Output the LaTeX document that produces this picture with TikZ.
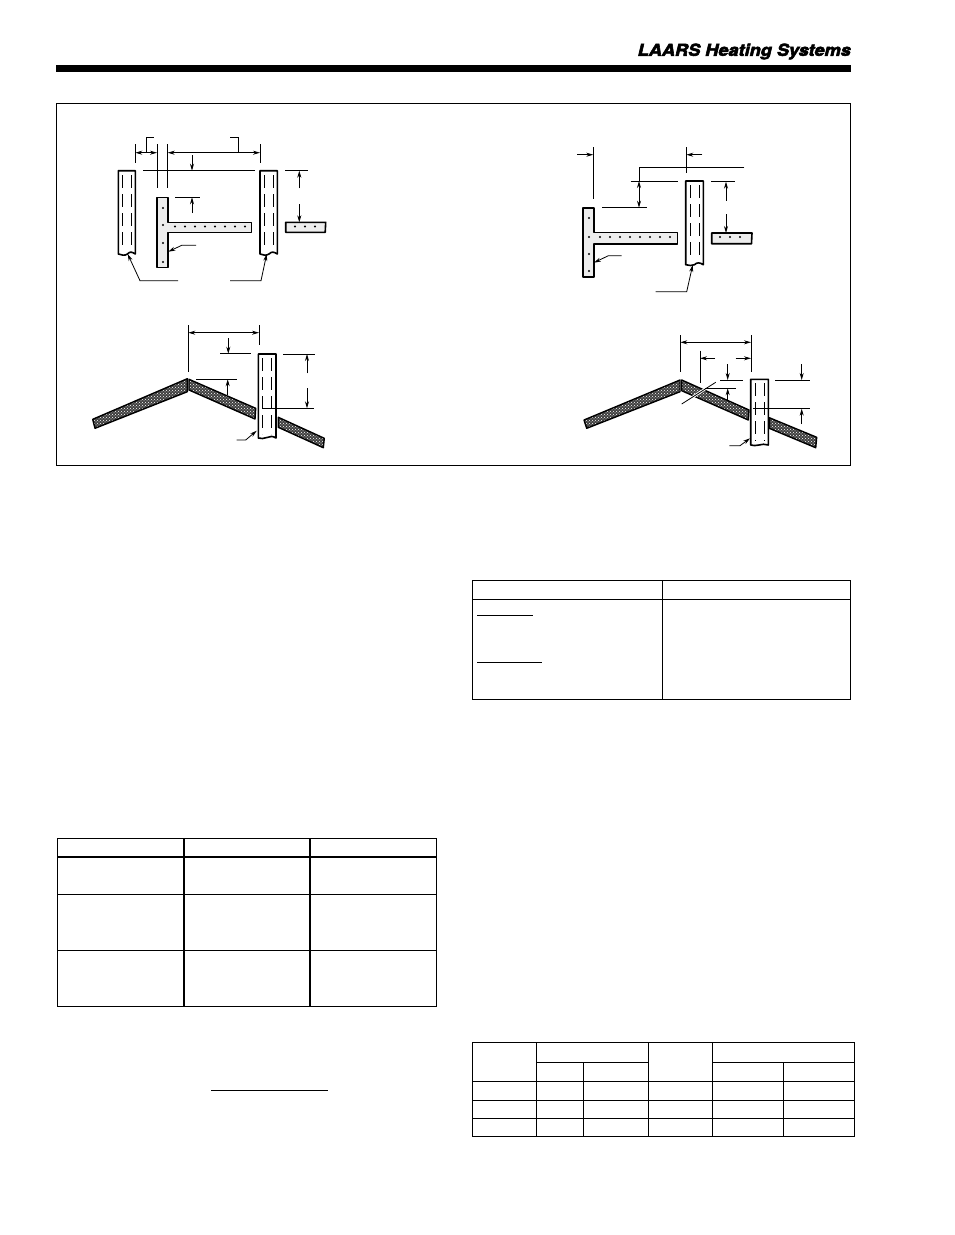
\documentclass[tikz,border=0pt]{standalone}
\usepackage{fontspec}
\newfontfamily\laarsfont[FakeBold=3.4,FakeStretch=1.10]{TeX Gyre Heros}
\usetikzlibrary{arrows.meta,patterns}
\tikzset{
	frameline/.style={line width=.9pt},
	heavyline/.style={line width=1.7pt},
	thinline/.style={line width=.8pt},
	dimarrow/.style={line width=.8pt,-{Stealth[length=7pt,width=4pt]}},
	pipeedge/.style={line width=1.6pt,fill=white,line join=round},
	pipedash/.style={line width=.6pt,dash pattern=on 13pt off 6pt},
	concrete/.style={line width=1.6pt,fill=black!7,line join=round},
	rebar/.style={circle,fill=black,inner sep=0pt,minimum size=2.2pt},
	roofslab/.style={line width=1.4pt,draw=black,line join=round,preaction={fill=black!75},pattern=crosshatch dots,pattern color=white}
}
\begin{document}
\begin{tikzpicture}[x=1pt,y=-1pt]
	\useasboundingbox (0,0) rectangle (954,1235);
	\fill[white] (0,0) rectangle (954,1235);

	\node[anchor=east,inner sep=0pt,font=\laarsfont\bfseries\itshape\fontsize{16.5}{18}\selectfont] (title) at (851,51.5) {LAARS Heating Systems};
	\fill[black] (56,65) rectangle (851,72);
	\draw[frameline] (56,103.5) rectangle (850.5,465);

	\draw[pipeedge] (118.3,170.7) -- (135.3,170.7) -- (135.3,254) .. controls (132,252) and (130,251) .. (127.5,254) .. controls (125,256) and (121,255) .. (118.3,254) -- cycle;
	\draw[pipedash] (122.5,175) -- (122.5,250);
	\draw[pipedash] (131.5,175) -- (131.5,250);
	\draw[pipeedge] (260,170.7) -- (277.3,170.7) -- (277.3,254) .. controls (274,252) and (272,251) .. (269,254) .. controls (266,256) and (263,255) .. (260,254) -- cycle;
	\draw[pipedash] (264,175) -- (264,250);
	\draw[pipedash] (273,175) -- (273,250);
	\draw[concrete] (157,197.3) -- (167.7,197.3) -- (167.7,222.3) -- (251.3,222.3) -- (251.3,232.3) -- (167.7,232.3) -- (167.7,267.3) -- (157,267.3) -- cycle;
	\draw[concrete] (285.7,222.3) -- (325.7,222.3) -- (325.2,232.3) -- (285.7,232.3) -- cycle;
	\foreach \px in {175,185,195,205,215,225,235,245,295,305,315} \node[rebar] at (\px,226.5) {};
	\foreach \py in {208,225,243,262} \node[rebar] at (163,\py) {};

	\draw[thinline] (135.3,144) -- (135.3,163);
	\draw[thinline] (157,144) -- (157,188);
	\draw[thinline] (167.7,144) -- (167.7,188);
	\draw[thinline] (260,144) -- (260,163);
	\draw[dimarrow] (146,152.7) -- (135.3,152.7);
	\draw[dimarrow] (146,152.7) -- (157,152.7);
	\draw[dimarrow] (200,152.7) -- (167.7,152.7);
	\draw[dimarrow] (200,152.7) -- (260,152.7);
	\draw[thinline] (146,152.7) -- (146,137.7) -- (153.7,137.7);
	\draw[thinline] (238.3,152.7) -- (238.3,137.7) -- (230,137.7);
	\draw[thinline] (143,170.7) -- (255,170.7);
	\draw[dimarrow] (192,155) -- (192,170.7);
	\draw[thinline] (175,197.3) -- (200,197.3);
	\draw[dimarrow] (192,213) -- (192,197.3);
	\draw[thinline] (285,170.7) -- (308,170.7);
	\draw[dimarrow] (299.3,188.3) -- (299.3,170.7);
	\draw[dimarrow] (299.3,204) -- (299.3,222.3);
	\draw[dimarrow] (178,280.7) -- (140,280.7) -- (127.7,254);
	\draw[dimarrow] (230,280.7) -- (261,280.7) -- (266.7,254);
	\draw[dimarrow] (196,245.3) -- (181.7,245.3) -- (168.3,251.7);

	\draw[pipeedge] (685.7,181) -- (703.3,181) -- (703.3,264.7) .. controls (700,262.5) and (697,262) .. (694.5,264.7) .. controls (692,266) and (689,265.5) .. (685.7,264.7) -- cycle;
	\draw[pipedash] (690,185) -- (690,260);
	\draw[pipedash] (699,185) -- (699,260);
	\draw[concrete] (583,207.7) -- (594,207.7) -- (594,232.3) -- (677.3,232.3) -- (677.3,243.7) -- (594,243.7) -- (594,277) -- (583,277) -- cycle;
	\draw[concrete] (711.7,233) -- (752,233) -- (751.5,243.7) -- (711.7,243.7) -- cycle;
	\foreach \px in {600,610,620,630,640,650,660,670,720,730,740} \node[rebar] at (\px,237) {};
	\foreach \py in {218,237,254,271} \node[rebar] at (589,\py) {};

	\draw[thinline] (593.3,147.3) -- (593.3,199.3);
	\draw[thinline] (686.3,147.3) -- (686.3,173.3);
	\draw[dimarrow] (577.3,154.7) -- (593.3,154.7);
	\draw[dimarrow] (702.3,154.7) -- (686.3,154.7);
	\draw[thinline] (744.3,167.7) -- (639,167.7) -- (639,181);
	\draw[thinline] (630.7,181) -- (678.3,181);
	\draw[thinline] (602,207.7) -- (646.7,207.7);
	\draw[dimarrow] (639,194) -- (639,181);
	\draw[dimarrow] (639,194) -- (639,207.7);
	\draw[thinline] (711,181.7) -- (734.7,181.7);
	\draw[dimarrow] (726,200.7) -- (726,181.7);
	\draw[dimarrow] (726,214) -- (726,233);
	\draw[dimarrow] (621.7,255.7) -- (608.3,255.7) -- (594,262.7);
	\draw[dimarrow] (655.7,291.7) -- (686.7,291.7) -- (692.7,265);

	\draw[roofslab] (92.7,419.3) -- (187.3,378.7) -- (187.3,391.7) -- (95,428.3) -- cycle;
	\draw[roofslab] (189,379.3) -- (255.7,408.3) -- (255,419) -- (189,390) -- cycle;
	\draw[roofslab] (278.3,417.3) -- (324.3,438.3) -- (323.3,447.7) -- (278.3,427.3) -- cycle;
	\draw[pipeedge] (258.3,354) -- (276,354) -- (276,438) .. controls (273,436) and (270,436) .. (267,437.5) .. controls (264,439) and (261,438.5) .. (258.3,438) -- cycle;
	\draw[pipedash] (262.5,358) -- (262.5,434);
	\draw[pipedash] (271.5,358) -- (271.5,434);

	\draw[thinline] (188.3,325) -- (188.3,371.7);
	\draw[thinline] (259,325) -- (259,345);
	\draw[dimarrow] (222,332.7) -- (188.3,332.7);
	\draw[dimarrow] (222,332.7) -- (259,332.7);
	\draw[thinline] (220,353.7) -- (251,353.7);
	\draw[dimarrow] (228.3,338.3) -- (228.3,353.7);
	\draw[thinline] (196,379.3) -- (236.7,379.3);
	\draw[dimarrow] (227.7,395) -- (227.7,379.3);
	\draw[thinline] (283.3,354) -- (315,354);
	\draw[thinline] (262.7,408.3) -- (314.3,408.3);
	\draw[dimarrow] (307,373.3) -- (307,354);
	\draw[dimarrow] (307,388.3) -- (307,408.3);
	\draw[dimarrow] (236.7,440) -- (245.7,440) -- (256.7,430.7);

	\draw[roofslab] (584,420) -- (680,380) -- (680,391.7) -- (586.7,428.3) -- cycle;
	\draw[roofslab] (681.7,380) -- (749,410) -- (748.3,420) -- (681.7,390.7) -- cycle;
	\draw[roofslab] (769.3,417.7) -- (816.7,437.3) -- (815.7,447.7) -- (769.3,428.3) -- cycle;
	\draw[pipeedge] (750.7,379.3) -- (768.3,379.3) -- (768.3,445) .. controls (765,444) and (762,444) .. (759,445) .. controls (756,446) and (753,445.5) .. (750.7,445) -- cycle;
	\draw[pipedash] (755,383) -- (755,441);
	\draw[pipedash] (764,383) -- (764,441);

	\draw[line width=2.6pt,white] (685,402) -- (712,384.5);
	\draw[thinline] (681.7,404) -- (715.7,382.3);
	\draw[thinline] (680.3,335) -- (680.3,371.7);
	\draw[thinline] (751,335) -- (751,371.7);
	\draw[dimarrow] (716,342.3) -- (680.3,342.3);
	\draw[dimarrow] (716,342.3) -- (751,342.3);
	\draw[thinline] (700,350.7) -- (700,382.7);
	\draw[dimarrow] (715,358.3) -- (700,358.3);
	\draw[dimarrow] (735.7,358.3) -- (751,358.3);
	\draw[thinline] (720,380) -- (742.7,380);
	\draw[thinline] (705,388.3) -- (735.7,388.3);
	\draw[dimarrow] (727.7,364.3) -- (727.7,380);
	\draw[dimarrow] (727.7,400) -- (727.7,388.3);
	\draw[thinline] (775,380) -- (810,380);
	\draw[thinline] (753.3,408.7) -- (810,408.7);
	\draw[dimarrow] (801.7,364.3) -- (801.7,380);
	\draw[dimarrow] (801.7,424) -- (801.7,408.7);
	\draw[dimarrow] (729.3,445.7) -- (740,445.7) -- (750,438.3);

	\draw[frameline] (472.7,580.3) rectangle (850.3,699.3);
	\draw[frameline] (472.7,599.3) -- (850.3,599.3);
	\draw[frameline] (662.3,580.3) -- (662.3,699.3);
	\draw[frameline] (477.3,615) -- (532.7,615);
	\draw[frameline] (477.3,662) -- (541.7,662);

	\draw[frameline] (57.7,838.7) rectangle (436.3,1006.3);
	\draw[heavyline] (57.7,857) -- (436.3,857);
	\draw[frameline] (57.7,894.3) -- (436.3,894.3);
	\draw[frameline] (57.7,950.7) -- (436.3,950.7);
	\draw[heavyline] (183.7,838.7) -- (183.7,1006.3);
	\draw[heavyline] (310,838.7) -- (310,1006.3);

	\draw[frameline] (211,1090.5) -- (328,1090.5);

	\draw[frameline] (472.7,1042.7) rectangle (854.7,1136.3);
	\draw[frameline] (536.3,1062.3) -- (648.3,1062.3);
	\draw[frameline] (712.7,1062.3) -- (854.7,1062.3);
	\draw[frameline] (472.7,1081.3) -- (854.7,1081.3);
	\draw[frameline] (472.7,1100.3) -- (854.7,1100.3);
	\draw[frameline] (472.7,1118.3) -- (854.7,1118.3);
	\draw[frameline] (536.3,1042.7) -- (536.3,1136.3);
	\draw[frameline] (583.3,1062.3) -- (583.3,1136.3);
	\draw[frameline] (648.3,1042.7) -- (648.3,1136.3);
	\draw[frameline] (712.7,1042.7) -- (712.7,1136.3);
	\draw[frameline] (783.3,1062.3) -- (783.3,1136.3);
\end{tikzpicture}
\end{document}
